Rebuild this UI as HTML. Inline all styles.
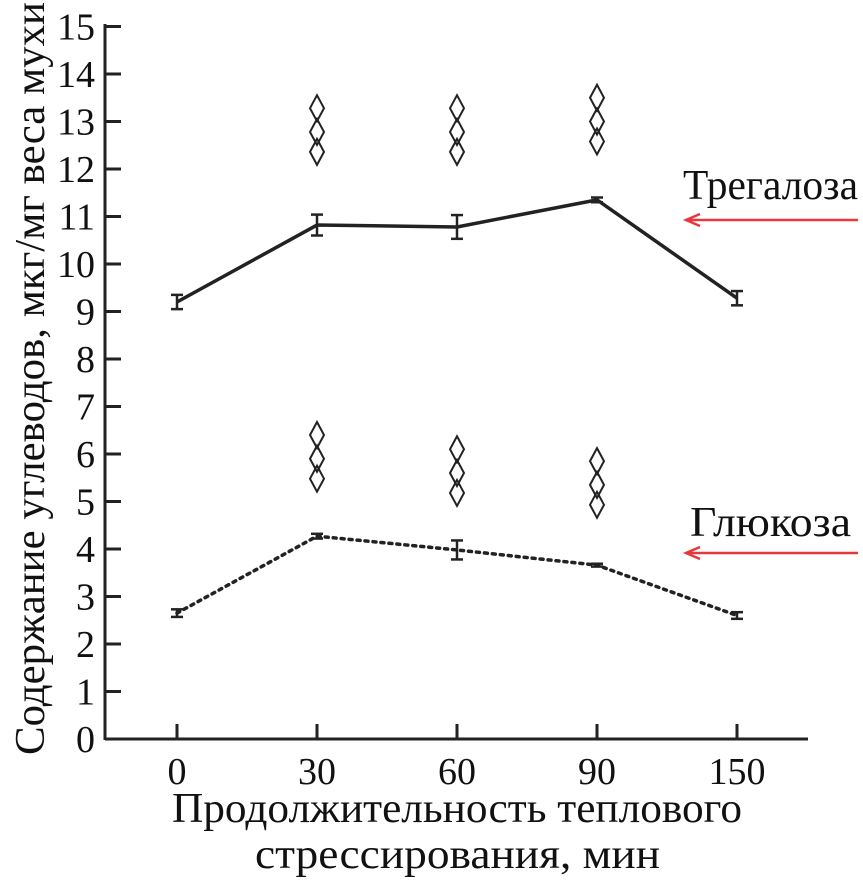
<!DOCTYPE html>
<html><head><meta charset="utf-8"><style>
body{margin:0;background:#fff}
svg{display:block;font-family:"Liberation Serif",serif}
</style></head><body>
<svg id="chart" width="863" height="883" viewBox="0 0 863 883"></svg>
<script>
const categories=["0","30","60","90","150"];
const trehalose=[9.2,10.82,10.78,11.35,9.28];
const trehaloseErr=[0.15,0.22,0.25,0.05,0.15];
const glucose=[2.65,4.27,3.98,3.66,2.6];
const glucoseErr=[0.08,0.05,0.2,0.03,0.07];
const trehaloseMarks=[null,13.28,13.28,13.5,null];
const glucoseMarks=[null,6.4,6.1,5.85,null];
const yTicks=[0,1,2,3,4,5,6,7,8,9,10,11,12,13,14,15];
const svg=document.getElementById('chart');
const NS='http://www.w3.org/2000/svg';
function y(v){return 739-v*47.5;}
function x(i){return 177+i*140;}
function el(t,a,p){const e=document.createElementNS(NS,t);for(const k in a)e.setAttribute(k,a[k]);(p||svg).appendChild(e);return e;}
let e;
e=el('line',{x1:105,y1:739,x2:808,y2:739,stroke:'#222','stroke-width':3});


e=el('line',{x1:105,y1:24,x2:105,y2:740,stroke:'#222','stroke-width':3});


yTicks.forEach(v=>{
  e=el('line',{x1:105,y1:y(v),x2:121,y2:y(v),stroke:'#222','stroke-width':3});
  
  
  e=el('text',{x:95,y:y(v)+13,'text-anchor':'end','font-size':38,fill:'#111'});
  e.textContent=v;
  
  
});
categories.forEach((c,i)=>{
  e=el('line',{x1:x(i),y1:739,x2:x(i),y2:724,stroke:'#222','stroke-width':3});
  
  
  e=el('text',{x:x(i),y:784,'text-anchor':'middle','font-size':38,fill:'#111'});
  e.textContent=c;
  
  
});
function series(vals,errs,dashed,name){
  const pts=vals.map((v,i)=>x(i)+','+y(v)).join(' ');
  e=el('polyline',{points:pts,fill:'none',stroke:'#222','stroke-width':3.5,'stroke-dasharray':dashed?'3 5':'none','stroke-linecap':dashed?'round':'butt'});
  
  
  vals.forEach((v,i)=>{
    const g=el('g',{stroke:'#222','stroke-width':2.5});
    
    
    const t=y(v+errs[i]),b=y(v-errs[i]);
    el('line',{x1:x(i),y1:t,x2:x(i),y2:b},g);
    el('line',{x1:x(i)-6,y1:t,x2:x(i)+6,y2:t},g);
    el('line',{x1:x(i)-6,y1:b,x2:x(i)+6,y2:b},g);
  });
}
series(trehalose,trehaloseErr,false,'trehalose');
series(glucose,glucoseErr,true,'glucose');
function marks(arr,name){
  arr.forEach((v,i)=>{
    if(v==null)return;
    [0,-0.5,-0.92].forEach(o=>{
      const cx=x(i),cy=y(v+o);
      e=el('polygon',{points:`${cx},${cy-13} ${cx+7},${cy} ${cx},${cy+13} ${cx-7},${cy}`,fill:'none',stroke:'#222','stroke-width':2});
      
      
    });
  });
}
marks(trehaloseMarks,'trehalose');
marks(glucoseMarks,'glucose');
function arrow(yy,name){
  const g=el('g',{stroke:'#e8383d','stroke-width':2.5,fill:'none'});
  
  
  el('line',{x1:686,y1:yy,x2:858,y2:yy},g);
  el('polyline',{points:`700,${yy-6} 686,${yy} 700,${yy+6}`},g);
}
arrow(220,'trehalose-arrow');
arrow(553,'glucose-arrow');
e=el('text',{x:683,y:199,'font-size':42,fill:'#111',textLength:175,lengthAdjust:'spacingAndGlyphs'});e.textContent='Трегалоза';


e=el('text',{x:690,y:536,'font-size':42,fill:'#111',textLength:161,lengthAdjust:'spacingAndGlyphs'});e.textContent='Глюкоза';


e=el('text',{x:172,y:822,'font-size':42,fill:'#111',textLength:570,lengthAdjust:'spacingAndGlyphs'});e.textContent='Продолжительность теплового';


e=el('text',{x:255,y:868,'font-size':42,fill:'#111',textLength:405,lengthAdjust:'spacingAndGlyphs'});e.textContent='стрессирования, мин';


e=el('text',{x:0,y:0,'font-size':42,fill:'#111',textLength:753,lengthAdjust:'spacingAndGlyphs',transform:'translate(44,755) rotate(-90)'});
e.textContent='Содержание углеводов, мкг/мг веса мухи';


</script>
</body></html>
